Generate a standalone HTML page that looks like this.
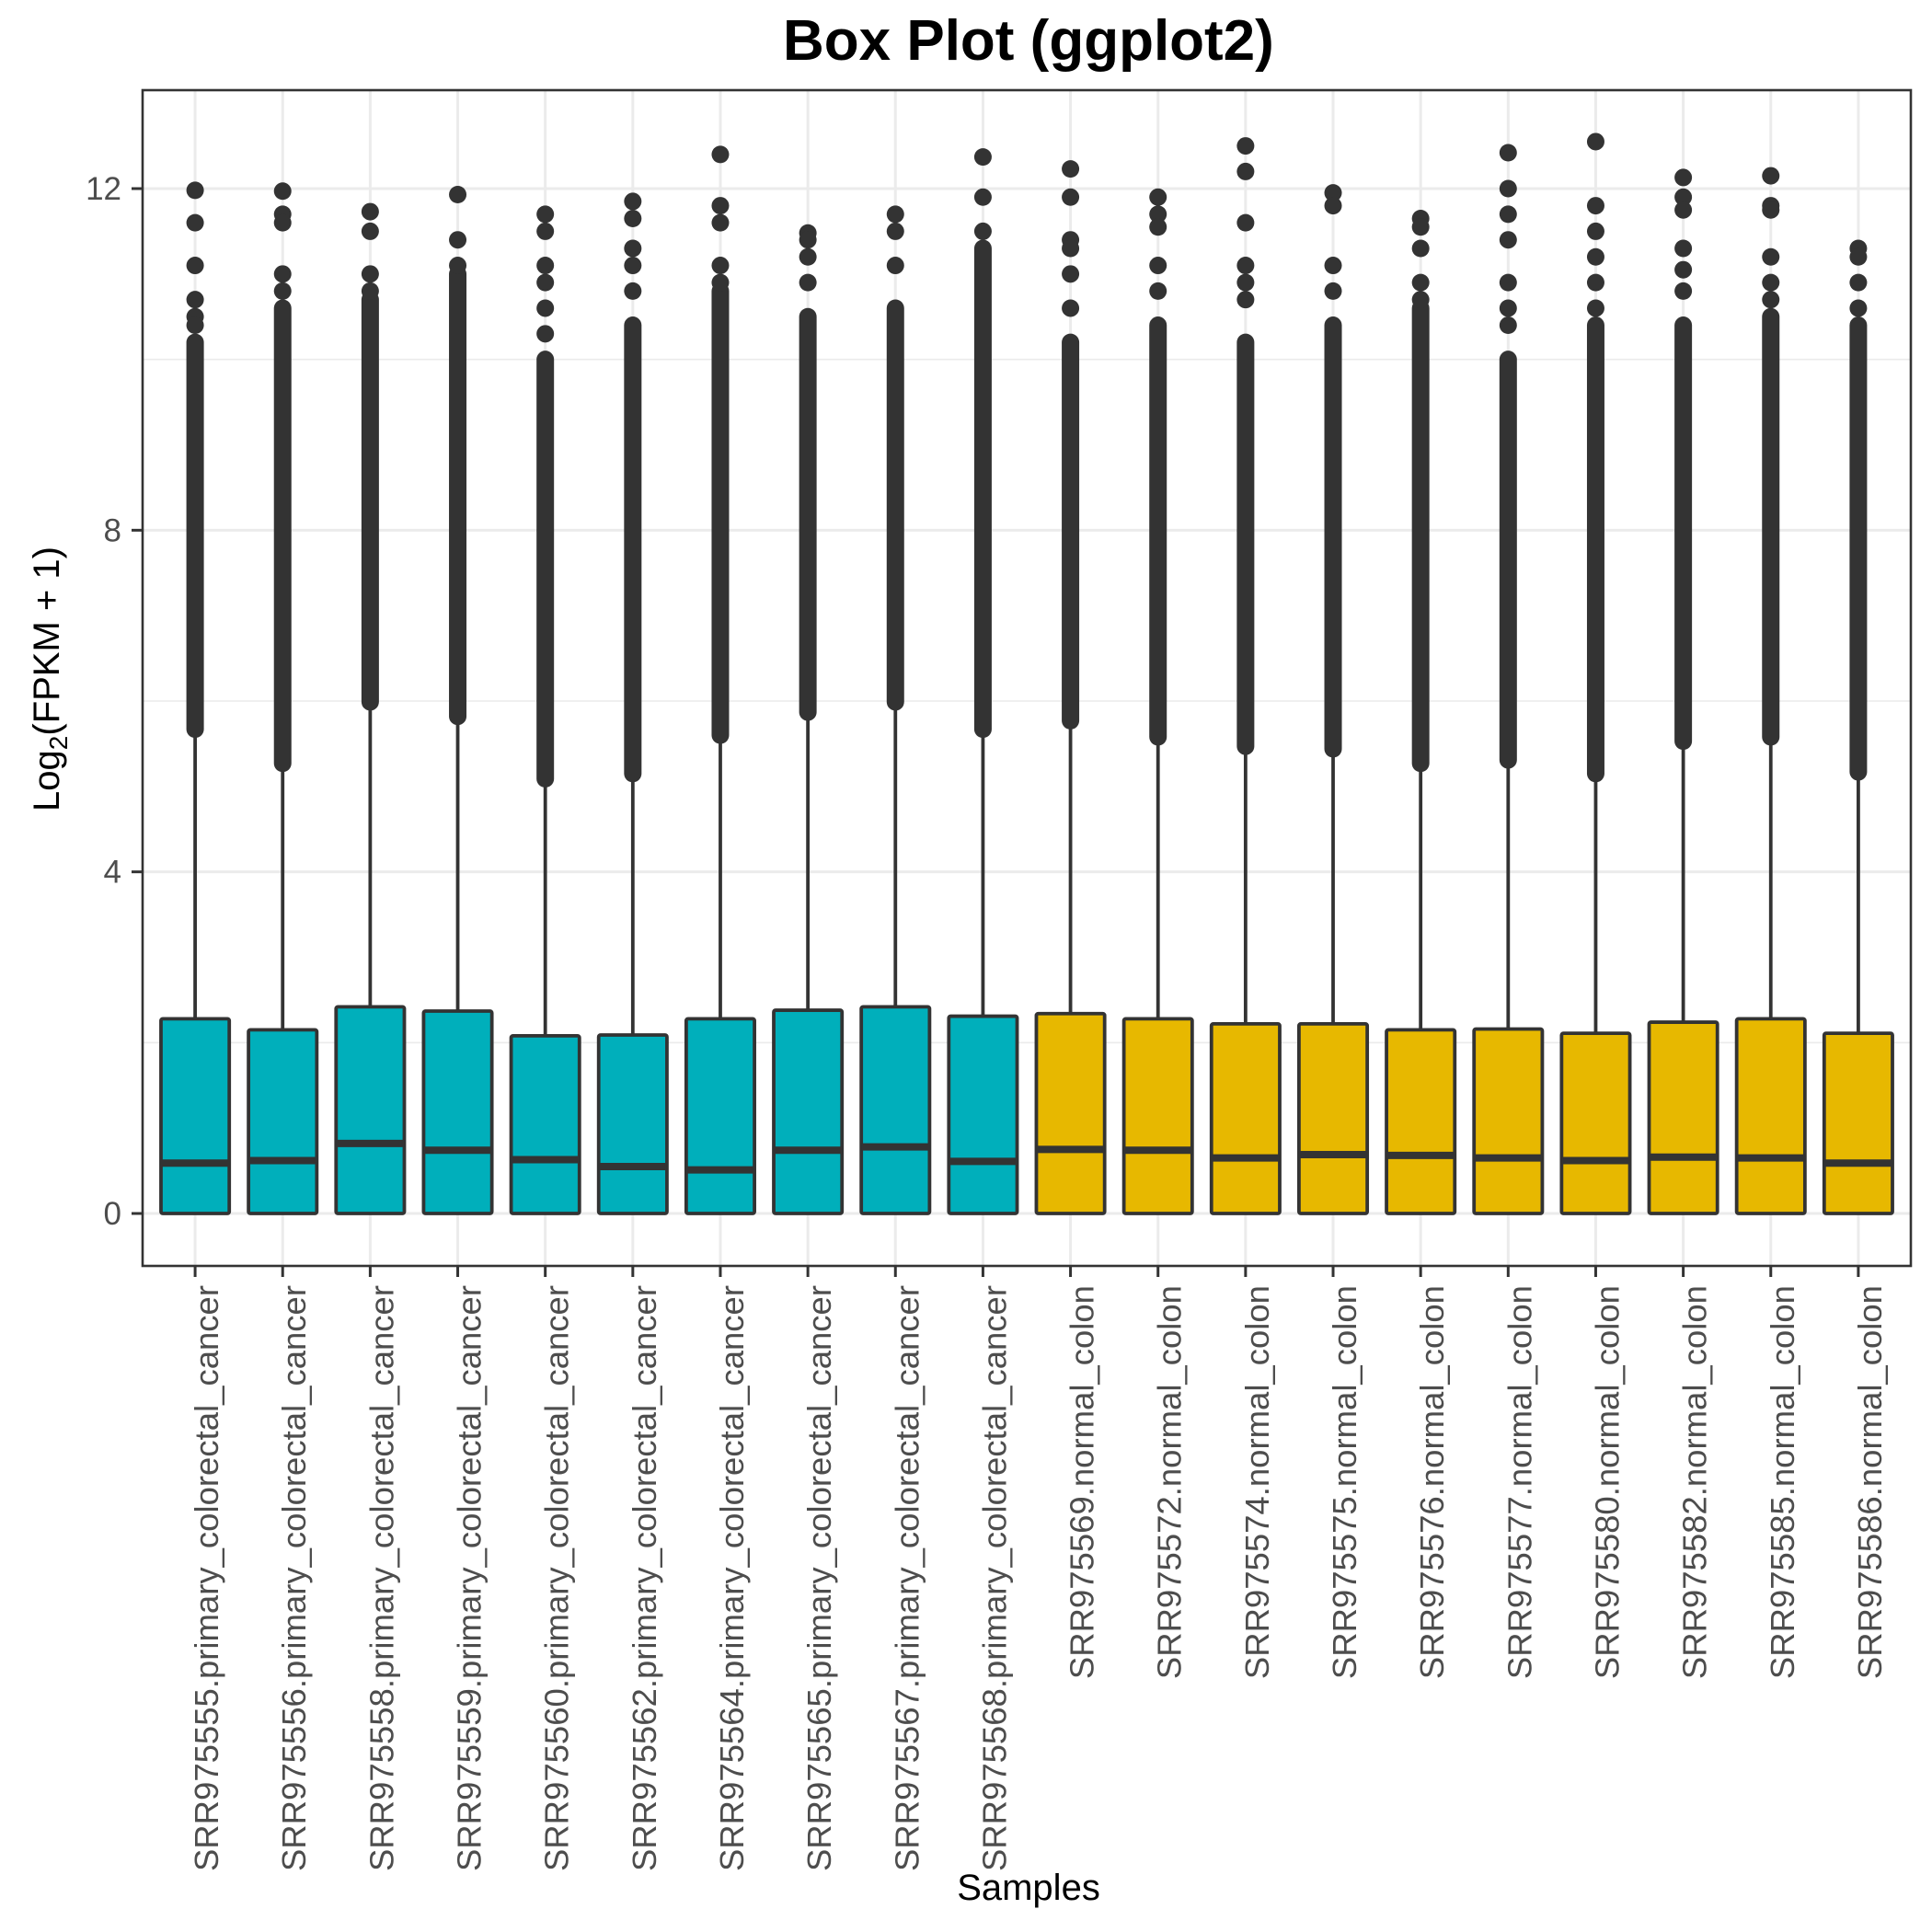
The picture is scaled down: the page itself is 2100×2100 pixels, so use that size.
<!DOCTYPE html>
<html><head><meta charset="utf-8">
<style>
html,body{margin:0;padding:0;background:#fff;}
svg{display:block;}
</style></head>
<body>
<svg id="chart" width="2100" height="2100" viewBox="0 0 2100 2100" xmlns="http://www.w3.org/2000/svg">
  <rect x="0" y="0" width="2100" height="2100" fill="#fff"/>
  <g id="grid"></g>
  <g id="marks"></g>
  <rect x="155" y="98" width="1922" height="1278" fill="none" stroke="#333" stroke-width="2.6"/>
  <g id="axes"></g>
  <text x="851" y="65" font-family="Liberation Sans, sans-serif" font-weight="bold" font-size="62" fill="#000">Box Plot (ggplot2)</text>
  <text x="1118" y="2065" text-anchor="middle" font-family="Liberation Sans, sans-serif" font-size="40" fill="#000">Samples</text>
  <text transform="translate(64,738) rotate(-90)" text-anchor="middle" font-family="Liberation Sans, sans-serif" font-size="40" fill="#000">Log<tspan font-size="28" dy="9">2</tspan><tspan dy="-9">(FPKM + 1)</tspan></text>
</svg>
<script>
const categories = ["SRR975555.primary_colorectal_cancer","SRR975556.primary_colorectal_cancer","SRR975558.primary_colorectal_cancer","SRR975559.primary_colorectal_cancer","SRR975560.primary_colorectal_cancer","SRR975562.primary_colorectal_cancer","SRR975564.primary_colorectal_cancer","SRR975565.primary_colorectal_cancer","SRR975567.primary_colorectal_cancer","SRR975568.primary_colorectal_cancer","SRR975569.normal_colon","SRR975572.normal_colon","SRR975574.normal_colon","SRR975575.normal_colon","SRR975576.normal_colon","SRR975577.normal_colon","SRR975580.normal_colon","SRR975582.normal_colon","SRR975585.normal_colon","SRR975586.normal_colon"];
const groups = ["cancer","cancer","cancer","cancer","cancer","cancer","cancer","cancer","cancer","cancer","normal","normal","normal","normal","normal","normal","normal","normal","normal","normal"];
const q1 = [0,0,0,0,0,0,0,0,0,0,0,0,0,0,0,0,0,0,0,0];
const medians = [0.59,0.62,0.82,0.74,0.63,0.55,0.51,0.74,0.78,0.61,0.75,0.74,0.65,0.69,0.68,0.65,0.62,0.66,0.65,0.59];
const q3 = [2.28,2.15,2.42,2.37,2.08,2.09,2.28,2.38,2.42,2.31,2.34,2.28,2.22,2.22,2.15,2.16,2.11,2.24,2.28,2.11];
const whiskerTop = [5.67,5.27,5.99,5.82,5.09,5.15,5.6,5.87,5.99,5.67,5.77,5.58,5.47,5.44,5.27,5.31,5.15,5.53,5.58,5.17];
const denseTop = [10.2,10.6,10.7,11.0,10.0,10.4,10.8,10.5,10.6,11.3,10.2,10.4,10.2,10.4,10.6,10.0,10.4,10.4,10.5,10.4];
const sparseOutliers = [
  [11.98,11.6,11.1,10.7,10.5,10.4],
  [11.97,11.7,11.6,11.0,10.8],
  [11.73,11.5,11.0,10.8],
  [11.93,11.4,11.1],
  [11.7,11.5,11.1,10.9,10.6,10.3],
  [11.85,11.65,11.3,11.1,10.8],
  [12.4,11.8,11.6,11.1,10.9],
  [11.48,11.4,11.2,10.9],
  [11.7,11.5,11.1],
  [12.37,11.9,11.5],
  [12.23,11.9,11.4,11.3,11.0,10.6],
  [11.9,11.7,11.55,11.1,10.8],
  [12.5,12.2,11.6,11.1,10.9,10.7],
  [11.95,11.8,11.1,10.8],
  [11.65,11.55,11.3,10.9,10.7],
  [12.42,12.0,11.7,11.4,10.9,10.6,10.4],
  [12.55,11.8,11.5,11.2,10.9,10.6],
  [12.13,11.9,11.75,11.3,11.05,10.8],
  [12.15,11.8,11.75,11.2,10.9,10.7],
  [11.3,11.2,10.9,10.6]
];
const yMajorTicks = [0,4,8,12];
const yMinorTicks = [2,6,10];
const colors = {cancer:"#00AFBB", normal:"#E7B800"};

const NS = "http://www.w3.org/2000/svg";
const PL = 155, PR = 2077, PT = 98, PB = 1376;
const Y0 = 1319, Y12 = 205;
function yScale(v){ return Y0 + (Y12 - Y0) * v / 12; }
const step = (PR - PL) / (categories.length - 1 + 1.2);
function xScale(i){ return PL + step * (0.6 + i); }
const boxW = step * 0.78;
function mk(tag, attrs, parent){
  const e = document.createElementNS(NS, tag);
  for (const k in attrs) e.setAttribute(k, attrs[k]);
  parent.appendChild(e);
  return e;
}
const grid = document.getElementById('grid');
const marks = document.getElementById('marks');
const axes = document.getElementById('axes');

yMinorTicks.forEach(v => {
  const l = mk('line', {x1:PL, x2:PR, y1:yScale(v), y2:yScale(v), stroke:'#ebebeb', 'stroke-width':1.6}, grid);
  
  
});
yMajorTicks.forEach(v => {
  const l = mk('line', {x1:PL, x2:PR, y1:yScale(v), y2:yScale(v), stroke:'#ebebeb', 'stroke-width':3}, grid);
  
  
  const t = mk('line', {x1:PL-12, x2:PL, y1:yScale(v), y2:yScale(v), stroke:'#333', 'stroke-width':3}, axes);
  
  
  const tx = mk('text', {x:132, y:yScale(v)+12, 'text-anchor':'end', 'font-family':'Liberation Sans, sans-serif', 'font-size':35, fill:'#4d4d4d'}, axes);
  tx.textContent = v;
  
  
});
categories.forEach((c, i) => {
  const x = xScale(i);
  const g = mk('line', {x1:x, x2:x, y1:PT, y2:PB, stroke:'#ebebeb', 'stroke-width':3}, grid);
  
  
  const t = mk('line', {x1:x, x2:x, y1:PB, y2:PB+12, stroke:'#333', 'stroke-width':3}, axes);
  
  
  const lab = mk('text', {transform:'translate('+(x+25)+','+(PB+21)+') rotate(-90)', 'text-anchor':'end', 'font-family':'Liberation Sans, sans-serif', 'font-size':36.5, fill:'#4d4d4d'}, axes);
  lab.textContent = c;
  
  

  const grp = mk('g', {}, marks);
  
  
  const w = mk('line', {x1:x, x2:x, y1:yScale(q3[i]), y2:yScale(whiskerTop[i]), stroke:'#333', 'stroke-width':3.8}, grp);
  
  
  const r = 9.5;
  const d = mk('rect', {x:x-r, y:yScale(denseTop[i])-r, width:2*r, height:yScale(whiskerTop[i])-yScale(denseTop[i])+2*r, rx:r, ry:r, fill:'#333'}, grp);
  
  
  sparseOutliers[i].forEach(v => {
    const p = mk('circle', {cx:x, cy:yScale(v), r:r, fill:'#333'}, grp);
    
    
  });
  const b = mk('rect', {x:x-boxW/2, y:yScale(q3[i]), width:boxW, height:yScale(q1[i])-yScale(q3[i]), fill:colors[groups[i]], stroke:'#333', 'stroke-width':3.8, rx:2}, grp);
  
  
  const m = mk('line', {x1:x-boxW/2, x2:x+boxW/2, y1:yScale(medians[i]), y2:yScale(medians[i]), stroke:'#333', 'stroke-width':8}, grp);
  
  
});
</script>
</body></html>
